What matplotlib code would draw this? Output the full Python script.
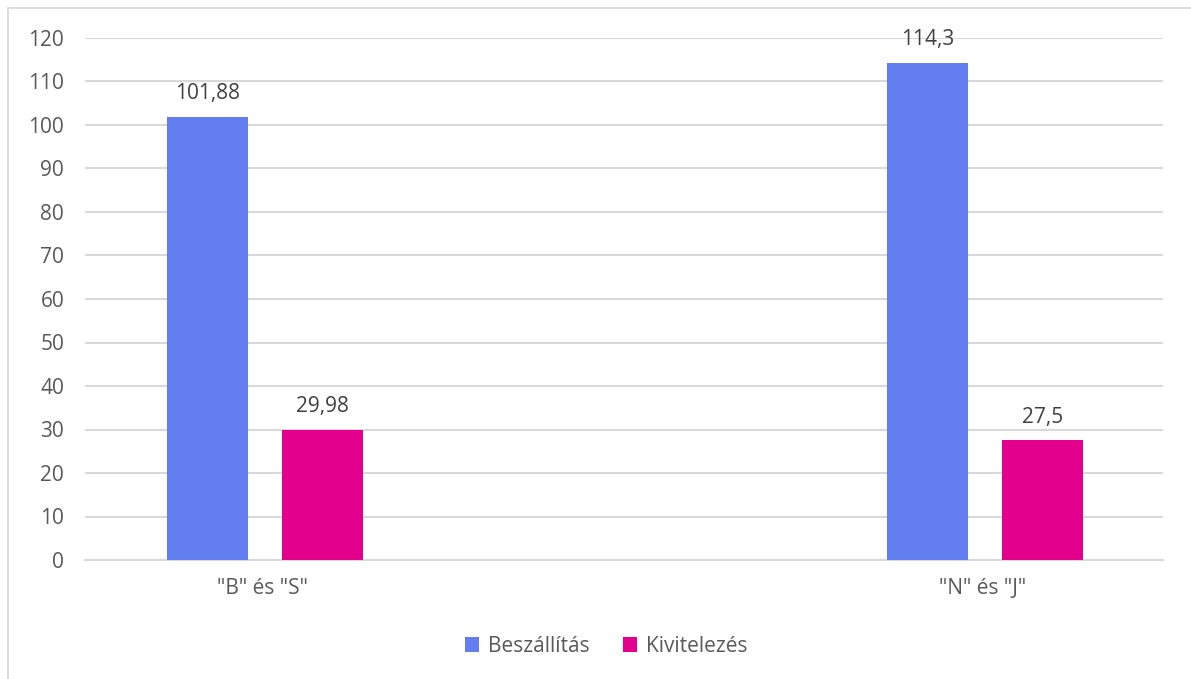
import matplotlib
matplotlib.use("Agg")
import matplotlib.pyplot as plt
from matplotlib.patches import Rectangle
import numpy as np

categories = ['"B" és "S"', '"N" és "J"']
series_names = ["Beszállítás", "Kivitelezés"]
beszallitas = [101.88, 114.3]
kivitelezes = [29.98, 27.5]
labels_b = ["101,88", "114,3"]
labels_k = ["29,98", "27,5"]
yticks = list(range(0, 121, 10))

blue = "#637EF0"
pink = "#E3008C"
txt = "#595959"
grid = "#D9D9D9"
fs = 15

plt.rcParams['font.family'] = ['Open Sans', 'DejaVu Sans']

W, H = 1191, 679
fig = plt.figure(figsize=(W/100, H/100), dpi=100)
fig.patches.append(Rectangle((8/W, -0.01), 1.2, 1 - 8/H + 0.01, transform=fig.transFigure,
                             fill=False, edgecolor=grid, lw=1.2))
ax = fig.add_axes([85/W, 1 - 560/H, (1163-85)/W, (560-38)/H])

x = np.arange(len(categories))
w = 0.1125
off = 0.08
b1 = ax.bar(x - off, beszallitas, w, color=blue, label=series_names[0], zorder=3)
b2 = ax.bar(x + off, kivitelezes, w, color=pink, label=series_names[1], zorder=3)

for rect, lab in zip(b1, labels_b):
    ax.annotate(lab, (rect.get_x() + rect.get_width()/2, rect.get_height()),
                xytext=(0, 9), textcoords="offset points", ha="center", va="bottom",
                fontsize=fs, color="#404040")
for rect, lab in zip(b2, labels_k):
    ax.annotate(lab, (rect.get_x() + rect.get_width()/2, rect.get_height()),
                xytext=(0, 9), textcoords="offset points", ha="center", va="bottom",
                fontsize=fs, color="#404040")

ax.set_xlim(-0.25, 1.247)
ax.set_ylim(0, 120)
ax.set_yticks(yticks)
ax.set_xticks(x - 0.004)
ax.set_xticklabels(categories)
ax.tick_params(axis="both", length=0, labelsize=fs, colors=txt)
ax.tick_params(axis="x", pad=13)
ax.tick_params(axis="y", pad=15)
ax.yaxis.grid(True, color=grid, lw=1.5, zorder=0)
for s in ["top", "right", "left"]:
    ax.spines[s].set_visible(False)
ax.spines["bottom"].set_color(grid)
ax.spines["bottom"].set_linewidth(1.5)

leg = fig.legend(loc="center", bbox_to_anchor=(606/W, 1 - 646/H), ncol=2, frameon=False,
                 fontsize=fs, handlelength=0.7, handleheight=0.7, handletextpad=0.4,
                 columnspacing=1.6)
for t in leg.get_texts():
    t.set_color(txt)

fig.savefig("out.png", dpi=100)
